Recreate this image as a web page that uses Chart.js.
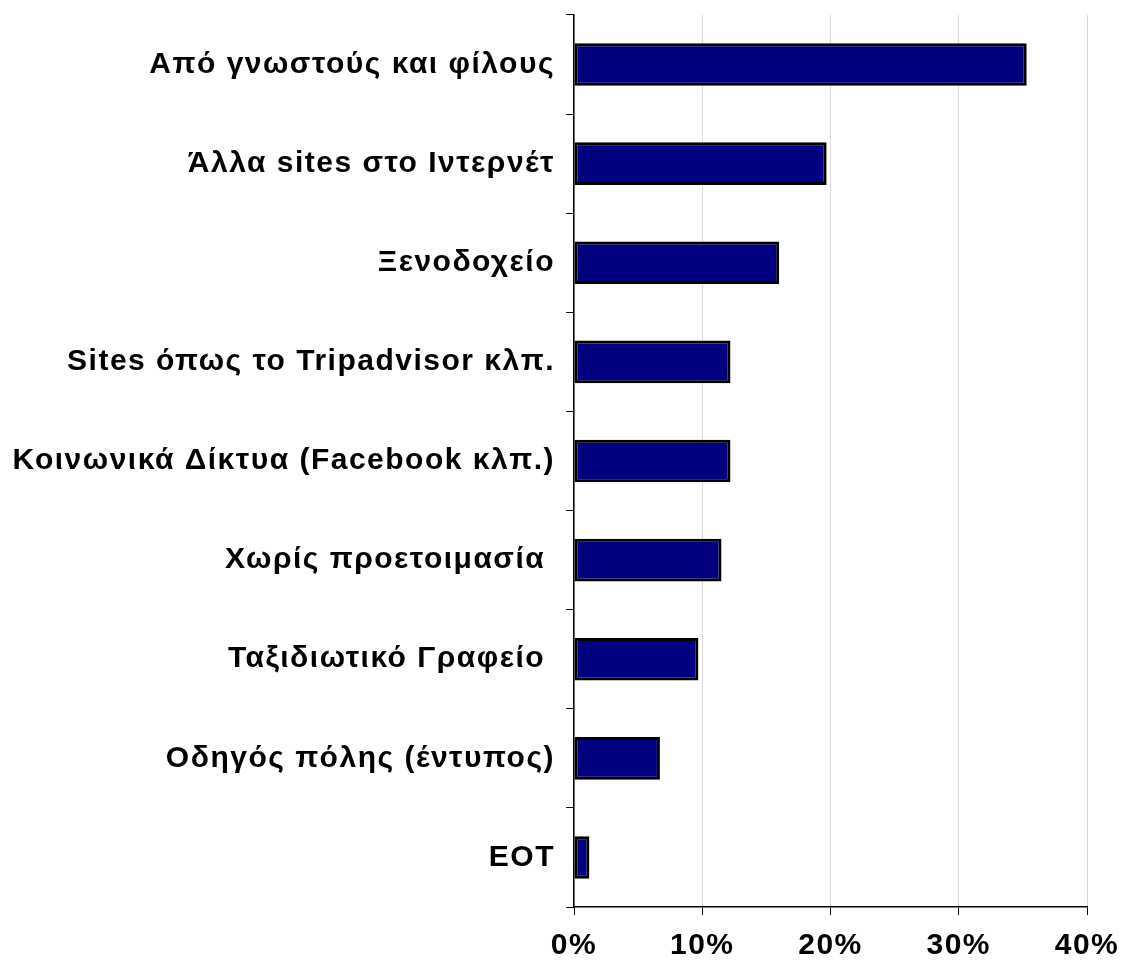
<!DOCTYPE html>
<html>
<head>
<meta charset="utf-8">
<script src="https://cdn.jsdelivr.net/npm/chart.js@4"></script>
<style>
html,body{margin:0;padding:0;background:#fff;}
#wrap{width:1126px;height:966px;position:relative;}
</style>
</head>
<body>
<div id="wrap"><canvas id="c" width="1126" height="966"></canvas></div>
<script>
const categories = [
  "Από γνωστούς και φίλους",
  "Άλλα sites στο Ιντερνέτ",
  "Ξενοδοχείο",
  "Sites όπως το Tripadvisor κλπ.",
  "Κοινωνικά Δίκτυα (Facebook κλπ.)",
  "Χωρίς προετοιμασία ",
  "Ταξιδιωτικό Γραφείο ",
  "Οδηγός πόλης (έντυπος)",
  "ΕΟΤ"
];
const values = [35.3, 19.7, 16.0, 12.2, 12.2, 11.5, 9.7, 6.7, 1.2];
const xTicks = [0, 10, 20, 30, 40];

const FONT = "'Liberation Sans', Arial, sans-serif";

const spacingPlugin = {
  id: 'spacing',
  beforeInit(chart) { chart.ctx.letterSpacing = '1.5px'; },
  beforeLayout(chart) { chart.ctx.letterSpacing = '1.5px'; },
  beforeDraw(chart) { chart.ctx.letterSpacing = '1.5px'; }
};

new Chart(document.getElementById('c'), {
  type: 'bar',
  data: {
    labels: categories,
    datasets: [{
      data: values,
      backgroundColor: '#000080',
      borderColor: '#000000',
      borderWidth: 3,
      borderSkipped: false,
      barPercentage: 0.43,
      categoryPercentage: 1.0
    }]
  },
  plugins: [spacingPlugin],
  options: {
    indexAxis: 'y',
    responsive: false,
    animation: false,
    layout: { padding: { top: 15, right: 39, left: 0, bottom: 0 } },
    plugins: { legend: { display: false }, tooltip: { enabled: false } },
    scales: {
      x: {
        min: 0, max: 40,
        afterBuildTicks: (s) => { s.ticks = xTicks.map(v => ({ value: v })); },
        afterFit: (s) => { s.height = 966 - 907; s.paddingLeft = 0; s.paddingRight = 0; },
        grid: { color: '#d9d9d9', lineWidth: 1, tickColor: '#000', tickLength: 8, drawTicks: true },
        border: { color: '#000', width: 1.5 },
        ticks: {
          color: '#000',
          font: { family: FONT, size: 30, weight: 'bold' },
          padding: 13,
          maxRotation: 0,
          callback: (v) => v + '%'
        }
      },
      y: {
        afterFit: (s) => { s.width = 574; s.paddingTop = 0; s.paddingBottom = 0; },
        grid: { drawOnChartArea: false, color: '#000', tickColor: '#000', tickLength: 8, offset: true },
        border: { color: '#000', width: 1.5 },
        ticks: {
          color: '#000',
          font: { family: FONT, size: 30, weight: 'bold' },
          padding: 11
        }
      }
    }
  }
});
</script>
</body>
</html>
